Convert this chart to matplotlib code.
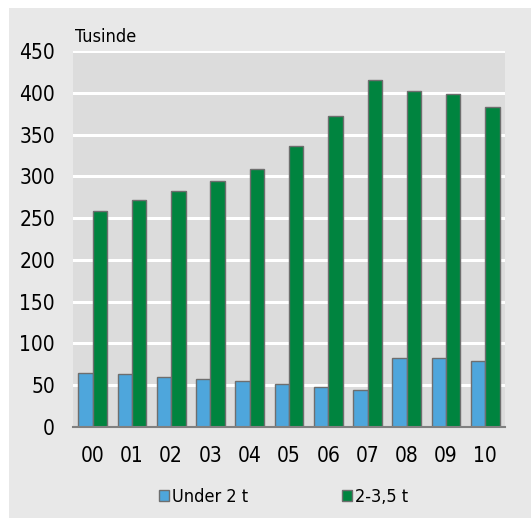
import numpy as np
import matplotlib.pyplot as plt
from matplotlib.patches import Rectangle, Patch

# data (tusinde)
years = ["00", "01", "02", "03", "04", "05", "06", "07", "08", "09", "10"]
under_2t = [65, 63, 60, 58, 55, 52, 48, 44, 83, 83, 79]
t2_35 = [259, 272, 283, 295, 309, 336, 372, 415, 402, 398, 383]
yticks = [0, 50, 100, 150, 200, 250, 300, 350, 400, 450]

blue = "#4ea6dc"
green = "#00843f"
edge = "#6e6e6e"

plt.rcParams['font.family'] = ['DejaVu Sans']
plt.rcParams['font.stretch'] = 'condensed'

W, H = 531, 518
fig = plt.figure(figsize=(W / 100, H / 100), dpi=100)
fig.patch.set_facecolor("white")
# lysegraa baggrund
fig.patches.append(Rectangle((9 / W, 0), 1, 1 - 8 / H, transform=fig.transFigure,
                             facecolor="#e8e8e8", edgecolor="none", zorder=-10))

ax = fig.add_axes([73 / W, 91 / H, 432 / W, 376 / H])
ax.set_facecolor("#dcdcdc")

x = np.arange(len(years))
w = 0.365
ax.bar(x - w / 2, under_2t, w, color=blue, edgecolor=edge, linewidth=1, zorder=3)
ax.bar(x + w / 2, t2_35, w, color=green, edgecolor=edge, linewidth=1, zorder=3)

ax.set_xlim(-0.5, len(years) - 0.5)
ax.set_ylim(0, 450)
ax.set_yticks(yticks)
ax.set_xticks(x)
ax.set_xticklabels(years)
for y in yticks[1:]:
    ax.axhline(y, color="white", lw=2.2, zorder=1)
ax.tick_params(length=0, labelsize=15)
ax.tick_params(axis="y", pad=13)
ax.tick_params(axis="x", pad=14)
for s in ["top", "right", "left"]:
    ax.spines[s].set_visible(False)
ax.spines["bottom"].set_color("#808080")
ax.spines["bottom"].set_linewidth(1.5)
ax.spines["bottom"].set_zorder(4)

fig.text(75 / W, 1 - 37 / H, "Tusinde", fontsize=13, va="center", ha="left")

handles = [Patch(facecolor=blue, edgecolor=edge, label="Under 2 t"),
           Patch(facecolor=green, edgecolor=edge, label="2-3,5 t")]
fig.legend(handles=handles, loc="center", bbox_to_anchor=(283.5 / W, 1 - 497 / H), ncol=2,
           frameon=False, fontsize=13, handlelength=0.55, handleheight=0.55,
           handletextpad=0.2, columnspacing=5.17)

fig.savefig("out.png", dpi=100)
